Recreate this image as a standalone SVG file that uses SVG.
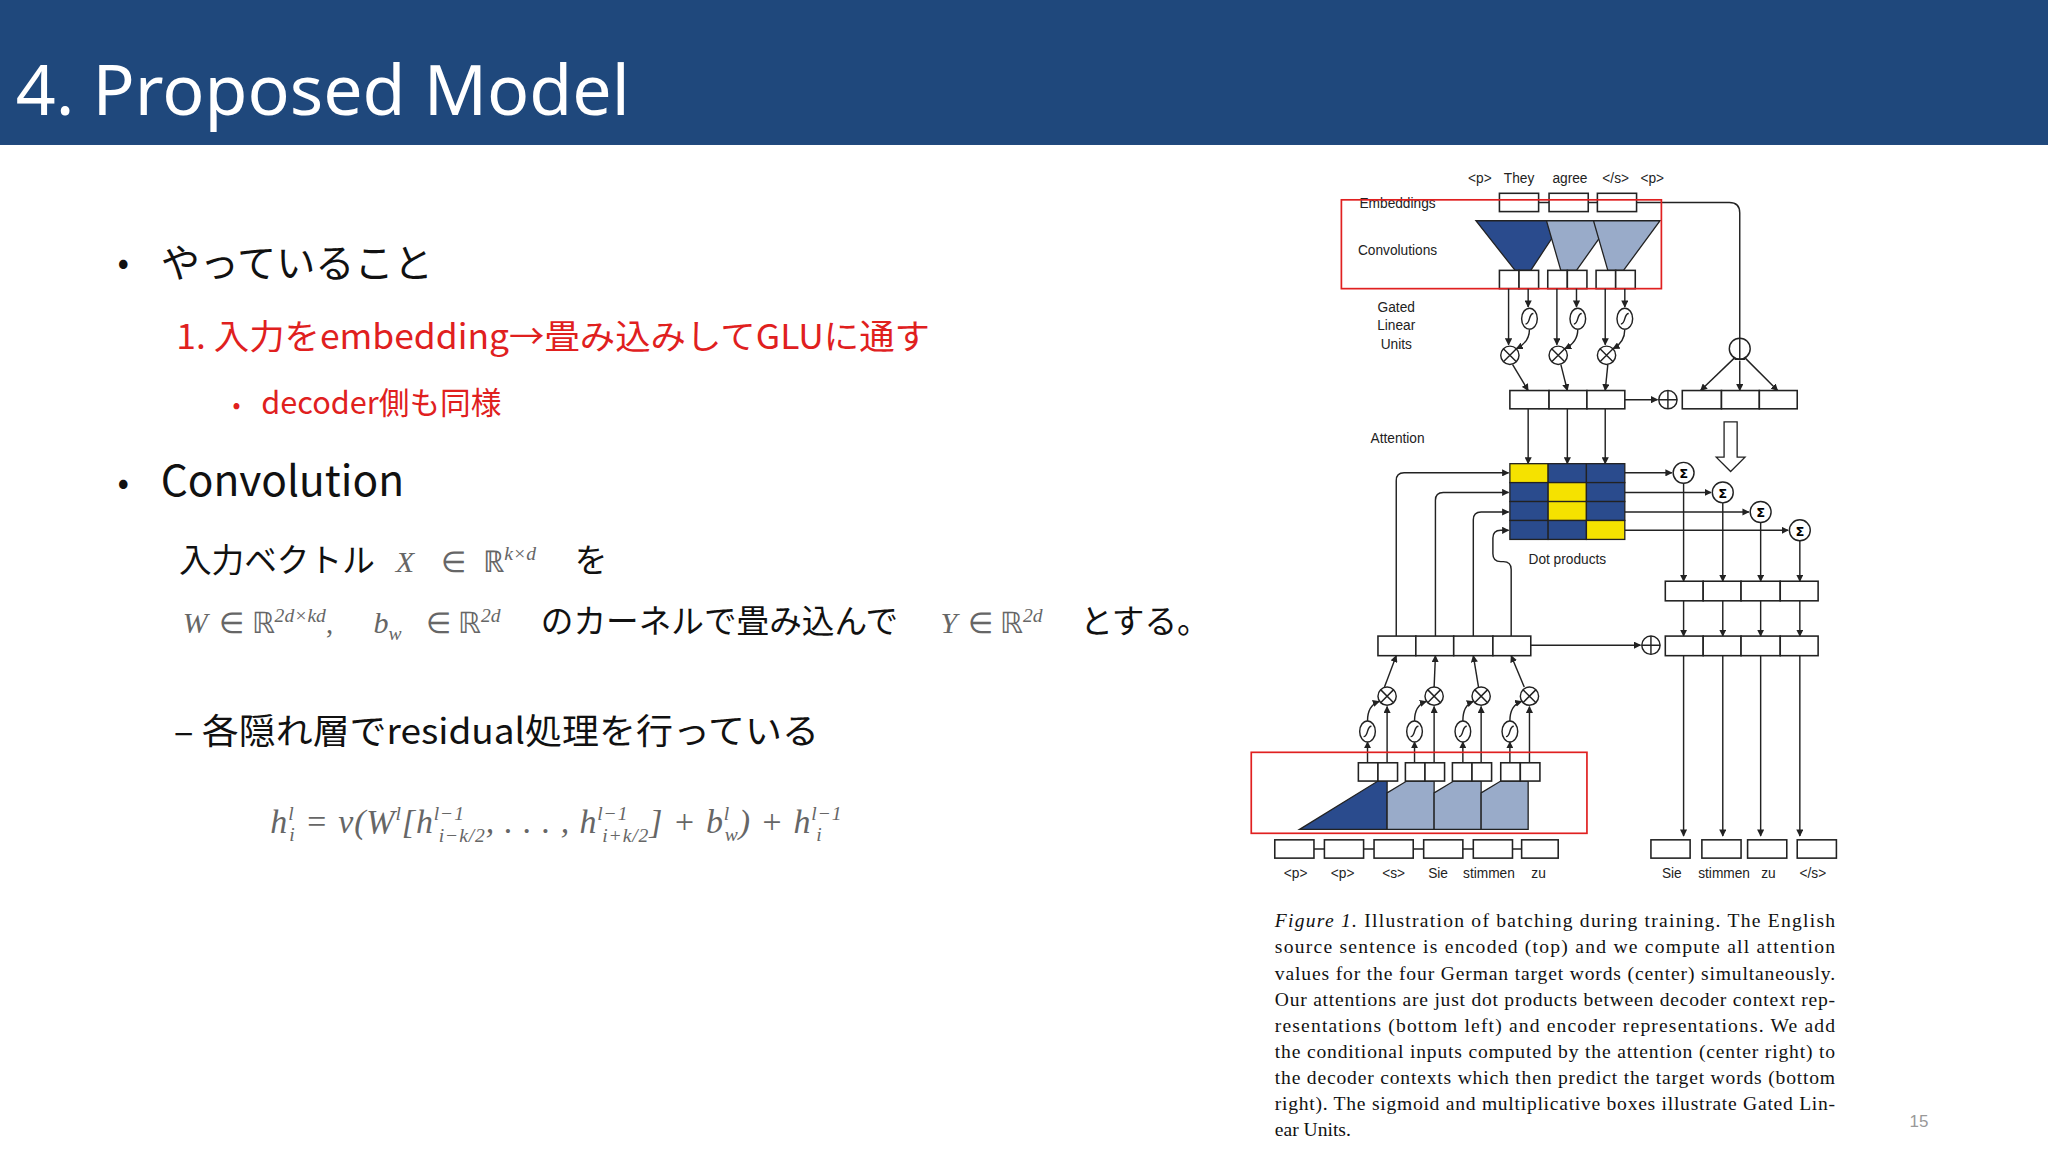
<svg xmlns="http://www.w3.org/2000/svg" width="2048" height="1152" viewBox="0 0 2048 1152">
<defs>
<marker id="ah" viewBox="0 0 10 10" refX="9" refY="5" markerWidth="5" markerHeight="5" orient="auto"><path d="M0,0L10,5L0,10z" fill="#222"/></marker>
<style>
.jp{font-family:"Noto Sans CJK JP","Noto Sans",sans-serif;fill:#111}
.red{fill:#e0201e}
.m{font-family:"Liberation Serif",serif;font-style:italic;fill:#666}
.mr{font-family:"Liberation Serif",serif;fill:#666}
.lb{font-family:"Liberation Sans",Arial,sans-serif;font-size:10.5px;fill:#222}
.bx{fill:#fff;stroke:#222;stroke-width:1.2}
.ln{fill:none;stroke:#222;stroke-width:1.1}
.ar{fill:none;stroke:#222;stroke-width:1.1;marker-end:url(#ah)}
.cap{font-family:"Liberation Serif","Times New Roman",serif;font-size:15px;fill:#111}
.op{fill:#fff;stroke:#222;stroke-width:1.1}
.dk{fill:#2a4b8d;stroke:#222;stroke-width:1}
.lt{fill:#99abc9;stroke:#222;stroke-width:1}
.ye{fill:#f5e200;stroke:#222;stroke-width:1}
</style>
<g id="mul"><circle r="7" class="op"/><path d="M-5,-5L5,5M5,-5L-5,5" class="ln"/></g>
<g id="sig"><ellipse rx="6" ry="8" class="op"/><path d="M-3,4C1,4 -1,-4 3,-4" class="ln"/></g>
<g id="sum"><circle r="8" class="op"/><text y="4" text-anchor="middle" style="font-family:'DejaVu Sans',sans-serif;font-size:10px;font-weight:bold">Σ</text></g>
<g id="plus"><circle r="7" class="op"/><path d="M-7,0H7M0,-7V7" class="ln"/></g>
</defs>
<rect width="2048" height="1152" fill="#fff"/>
<g transform="scale(1.306122)">
<g id="header"><rect x="0" y="0" width="1568" height="111" fill="#1f487c"/>
<text x="12" y="88" style="font-family:'Noto Sans','Open Sans',sans-serif;font-size:53.5px;fill:#fff">4. Proposed Model</text></g>
<g id="body">
<text x="90" y="210" class="jp" style="font-size:26px">•</text>
<text x="123" y="212" class="jp" style="font-size:30px">やっていること</text>
<text x="135" y="267" class="jp red" style="font-size:26px" textLength="577" lengthAdjust="spacingAndGlyphs">1.  入力をembedding→畳み込みしてGLUに通す</text>
<text x="178" y="316" class="jp red" style="font-size:18px">•</text>
<text x="200" y="317" class="jp red" style="font-size:23.5px">decoder側も同様</text>
<text x="90" y="378" class="jp" style="font-size:26px">•</text>
<text x="123" y="380" class="jp" style="font-size:32.5px">Convolution</text>
<text x="137" y="438" class="jp" style="font-size:25px">入力ベクトル</text>
<text x="303" y="438" class="m" style="font-size:23px">X</text>
<text x="338" y="438" class="mr" style="font-size:22px">∈</text>
<text x="370" y="438" class="mr" style="font-size:23px">ℝ<tspan class="m" dy="-9" style="font-size:15px">k×d</tspan></text>
<text x="440" y="438" class="jp" style="font-size:25px">を</text>
<text x="140" y="485" class="m" style="font-size:23px">W</text>
<text x="168" y="485" class="mr" style="font-size:22px">∈ ℝ<tspan class="m" dy="-9" style="font-size:15px">2d×kd</tspan><tspan dy="9">,</tspan></text>
<text x="286" y="485" class="m" style="font-size:23px">b<tspan dy="5" style="font-size:15px">w</tspan></text>
<text x="326" y="485" class="mr" style="font-size:22px">∈ ℝ<tspan class="m" dy="-9" style="font-size:15px">2d</tspan></text>
<text x="414" y="485" class="jp" style="font-size:25px">のカーネルで畳み込んで</text>
<text x="720" y="485" class="m" style="font-size:23px">Y</text>
<text x="741" y="485" class="mr" style="font-size:22px">∈ ℝ<tspan class="m" dy="-9" style="font-size:15px">2d</tspan></text>
<text x="827" y="485" class="jp" style="font-size:25px">とする。</text>
<text x="133" y="570" class="jp" style="font-size:27px" textLength="494" lengthAdjust="spacingAndGlyphs">– 各隠れ層でresidual処理を行っている</text>
<text x="207" y="638" class="m" style="font-size:26px" textLength="438" lengthAdjust="spacing">h<tspan dy="-10" style="font-size:15px">l</tspan><tspan dx="-4" dy="16" style="font-size:15px">i</tspan><tspan class="mr" dy="-6"> = </tspan>v(W<tspan dy="-10" style="font-size:15px">l</tspan><tspan dy="10">[h</tspan><tspan dy="-10" style="font-size:15px">l−1</tspan><tspan dx="-20" dy="17" style="font-size:15px">i−k/2</tspan><tspan dy="-7">, . . . , h</tspan><tspan dy="-10" style="font-size:15px">l−1</tspan><tspan dx="-20" dy="17" style="font-size:15px">i+k/2</tspan><tspan dy="-7">] + b</tspan><tspan dy="-10" style="font-size:15px">l</tspan><tspan dx="-4" dy="16" style="font-size:15px">w</tspan><tspan dy="-6">) + h</tspan><tspan dy="-10" style="font-size:15px">l−1</tspan><tspan dx="-20" dy="16" style="font-size:15px">i</tspan></text>
<text x="1462" y="863" style="font-family:'Liberation Sans',sans-serif;font-size:13px;fill:#999">15</text>
</g>
<g id="caption">
<text x="976" y="710" class="cap" textLength="429" lengthAdjust="spacing"><tspan font-style="italic">Figure 1.</tspan> Illustration of batching during training.  The English</text>
<text x="976" y="730" class="cap" textLength="429" lengthAdjust="spacing">source sentence is encoded (top) and we compute all attention</text>
<text x="976" y="750" class="cap" textLength="429" lengthAdjust="spacing">values for the four German target words (center) simultaneously.</text>
<text x="976" y="770" class="cap" textLength="429" lengthAdjust="spacing">Our attentions are just dot products between decoder context rep-</text>
<text x="976" y="790" class="cap" textLength="429" lengthAdjust="spacing">resentations (bottom left) and encoder representations.  We add</text>
<text x="976" y="810" class="cap" textLength="429" lengthAdjust="spacing">the conditional inputs computed by the attention (center right) to</text>
<text x="976" y="830" class="cap" textLength="429" lengthAdjust="spacing">the decoder contexts which then predict the target words (bottom</text>
<text x="976" y="850" class="cap" textLength="429" lengthAdjust="spacing">right). The sigmoid and multiplicative boxes illustrate Gated Lin-</text>
<text x="976" y="870" class="cap">ear Units.</text>
</g>
<g id="labels" class="lb" text-anchor="middle">
<text x="1133" y="140">&lt;p&gt;</text><text x="1163" y="140">They</text><text x="1202" y="140">agree</text><text x="1237" y="140">&lt;/s&gt;</text><text x="1265" y="140">&lt;p&gt;</text>
<text x="1070" y="159">Embeddings</text><text x="1070" y="195">Convolutions</text>
<text x="1069" y="239">Gated</text><text x="1069" y="253">Linear</text><text x="1069" y="267">Units</text>
<text x="1070" y="339">Attention</text><text x="1200" y="432">Dot products</text>
<text x="992" y="672">&lt;p&gt;</text><text x="1028" y="672">&lt;p&gt;</text><text x="1067" y="672">&lt;s&gt;</text><text x="1101" y="672">Sie</text><text x="1140" y="672">stimmen</text><text x="1178" y="672">zu</text>
<text x="1280" y="672">Sie</text><text x="1320" y="672">stimmen</text><text x="1354" y="672">zu</text><text x="1388" y="672">&lt;/s&gt;</text>
</g>
<g id="encoder">
<path class="ln" d="M1178,155H1186M1216,155H1223M1253,155H1324Q1332,155 1332,163V267"/>
<rect class="bx" x="1148" y="148" width="30" height="14"/><rect class="bx" x="1186" y="148" width="30" height="14"/><rect class="bx" x="1223" y="148" width="30" height="14"/>
<polygon class="dk" points="1130,169 1197,169 1172,207 1160,207"/>
<polygon class="lt" points="1184,169 1234,169 1207,207 1195,207"/>
<polygon class="lt" points="1220,169 1271,169 1243,207 1231,207"/>
<rect class="bx" x="1148" y="207" width="15" height="14"/><rect class="bx" x="1163" y="207" width="15" height="14"/>
<rect class="bx" x="1185" y="207" width="15" height="14"/><rect class="bx" x="1200" y="207" width="15" height="14"/>
<rect class="bx" x="1222" y="207" width="15" height="14"/><rect class="bx" x="1237" y="207" width="15" height="14"/>
<rect x="1027" y="153" width="245" height="68" fill="none" stroke="#e02020" stroke-width="1.3"/>
</g>
<g id="connectors">
<path class="ar" d="M1155,221V264"/><path class="ar" d="M1170,221V235"/><path class="ar" d="M1171,252Q1171,262 1161,267"/>
<path class="ar" d="M1192,221V264"/><path class="ar" d="M1207,221V235"/><path class="ar" d="M1208,252Q1208,262 1198,267"/>
<path class="ar" d="M1229,221V264"/><path class="ar" d="M1244,221V235"/><path class="ar" d="M1244,252Q1244,262 1235,267"/>
<path class="ar" d="M1158,279L1170,299"/><path class="ar" d="M1195,279L1200,299"/><path class="ar" d="M1231,279L1229,299"/>
<path class="ar" d="M1244,306H1269"/>
<path class="ar" d="M1328,274L1302,299"/><path class="ar" d="M1332,276V299"/><path class="ar" d="M1336,274L1361,299"/>
<path class="ar" d="M1170,313V355"/><path class="ar" d="M1200,313V355"/><path class="ar" d="M1229,313V355"/>
<path class="ar" d="M1244,362H1280"/><path class="ar" d="M1244,377H1310"/><path class="ar" d="M1244,392H1339"/><path class="ar" d="M1244,406H1369"/>
<path class="ar" d="M1289,370V445"/><path class="ar" d="M1319,385V445"/><path class="ar" d="M1348,400V445"/><path class="ar" d="M1378,414V445"/>
<path class="ar" d="M1289,460V487"/><path class="ar" d="M1319,460V487"/><path class="ar" d="M1348,460V487"/><path class="ar" d="M1378,460V487"/>
<path class="ar" d="M1289,502V640"/><path class="ar" d="M1319,502V640"/><path class="ar" d="M1348,502V640"/><path class="ar" d="M1378,502V640"/>
<path class="ar" d="M1172,494H1256"/>
<path class="ar" d="M1069,487V368Q1069,362 1075,362H1155"/>
<path class="ar" d="M1099,487V383Q1099,377 1105,377H1155"/>
<path class="ar" d="M1128,487V398Q1128,392 1134,392H1155"/>
<path class="ar" d="M1157,487V436Q1157,430 1151,430H1149Q1143,430 1143,424V412Q1143,406 1149,406H1155"/>
<path class="ar" d="M1047,584V568"/><path class="ar" d="M1062,584V541"/><path class="ar" d="M1047,552Q1047,540 1056,537"/>
<path class="ar" d="M1083,584V568"/><path class="ar" d="M1098,584V541"/><path class="ar" d="M1083,552Q1083,540 1092,537"/>
<path class="ar" d="M1120,584V568"/><path class="ar" d="M1134,584V541"/><path class="ar" d="M1120,552Q1120,540 1128,537"/>
<path class="ar" d="M1156,584V568"/><path class="ar" d="M1171,584V541"/><path class="ar" d="M1156,552Q1156,540 1165,537"/>
<path class="ar" d="M1060,526L1069,502"/><path class="ar" d="M1098,526L1099,502"/><path class="ar" d="M1132,526L1128,502"/><path class="ar" d="M1167,526L1157,502"/>
<path class="ln" d="M1006,650H1014M1044,650H1052M1082,650H1090M1120,650H1128M1158,650H1165"/>
<path d="M1320,323H1330V350H1336L1325,361L1314,350H1320Z" fill="#fff" stroke="#222" stroke-width="1"/>
</g>
<g id="ops">
<use href="#sig" x="1171" y="244"/><use href="#sig" x="1208" y="244"/><use href="#sig" x="1244" y="244"/>
<use href="#mul" x="1156" y="272"/><use href="#mul" x="1193" y="272"/><use href="#mul" x="1230" y="272"/>
<circle cx="1332" cy="267" r="8" class="op"/><path class="ln" d="M1332,259V275M1328,275L1336,275"/>
<use href="#plus" x="1277" y="306"/><use href="#plus" x="1264" y="494"/>
<use href="#sum" x="1289" y="362"/><use href="#sum" x="1319" y="377"/><use href="#sum" x="1348" y="392"/><use href="#sum" x="1378" y="406"/>
<use href="#mul" x="1062" y="533"/><use href="#mul" x="1098" y="533"/><use href="#mul" x="1134" y="533"/><use href="#mul" x="1171" y="533"/>
<use href="#sig" x="1047" y="560"/><use href="#sig" x="1083" y="560"/><use href="#sig" x="1120" y="560"/><use href="#sig" x="1156" y="560"/>
</g>
<g id="rows">
<rect class="bx" x="1156" y="299" width="30" height="14"/><rect class="bx" x="1186" y="299" width="29" height="14"/><rect class="bx" x="1215" y="299" width="29" height="14"/>
<rect class="bx" x="1288" y="299" width="30" height="14"/><rect class="bx" x="1318" y="299" width="29" height="14"/><rect class="bx" x="1347" y="299" width="29" height="14"/>
<rect class="bx" x="1275" y="445" width="29" height="15"/><rect class="bx" x="1304" y="445" width="29" height="15"/><rect class="bx" x="1333" y="445" width="30" height="15"/><rect class="bx" x="1363" y="445" width="29" height="15"/>
<rect class="bx" x="1275" y="487" width="29" height="15"/><rect class="bx" x="1304" y="487" width="29" height="15"/><rect class="bx" x="1333" y="487" width="30" height="15"/><rect class="bx" x="1363" y="487" width="29" height="15"/>
<rect class="bx" x="1055" y="487" width="29" height="15"/><rect class="bx" x="1084" y="487" width="29" height="15"/><rect class="bx" x="1113" y="487" width="30" height="15"/><rect class="bx" x="1143" y="487" width="29" height="15"/>
<rect class="bx" x="1264" y="643" width="30" height="14"/><rect class="bx" x="1303" y="643" width="30" height="14"/><rect class="bx" x="1338" y="643" width="30" height="14"/><rect class="bx" x="1376" y="643" width="30" height="14"/>
</g>
<g id="matrix">
<rect class="ye" x="1156" y="355" width="29.3" height="14.5"/><rect class="dk" x="1185.3" y="355" width="29.3" height="14.5"/><rect class="dk" x="1214.6" y="355" width="29.4" height="14.5"/>
<rect class="dk" x="1156" y="369.5" width="29.3" height="14.5"/><rect class="ye" x="1185.3" y="369.5" width="29.3" height="14.5"/><rect class="dk" x="1214.6" y="369.5" width="29.4" height="14.5"/>
<rect class="dk" x="1156" y="384" width="29.3" height="14.5"/><rect class="ye" x="1185.3" y="384" width="29.3" height="14.5"/><rect class="dk" x="1214.6" y="384" width="29.4" height="14.5"/>
<rect class="dk" x="1156" y="398.5" width="29.3" height="14.5"/><rect class="dk" x="1185.3" y="398.5" width="29.3" height="14.5"/><rect class="ye" x="1214.6" y="398.5" width="29.4" height="14.5"/>
</g>
<g id="decoder">
<polygon class="dk" points="995,635 1055,598 1062,598 1062,635"/>
<polygon class="lt" points="1062,635 1062,607 1077,598 1098,598 1098,635"/>
<polygon class="lt" points="1098,635 1098,607 1113,598 1134,598 1134,635"/>
<polygon class="lt" points="1134,635 1134,607 1149,598 1170,598 1170,635"/>
<rect class="bx" x="1040" y="584" width="15" height="14"/><rect class="bx" x="1055" y="584" width="15" height="14"/>
<rect class="bx" x="1076" y="584" width="15" height="14"/><rect class="bx" x="1091" y="584" width="15" height="14"/>
<rect class="bx" x="1112" y="584" width="15" height="14"/><rect class="bx" x="1127" y="584" width="15" height="14"/>
<rect class="bx" x="1149" y="584" width="15" height="14"/><rect class="bx" x="1164" y="584" width="15" height="14"/>
<rect x="958" y="576" width="257" height="62" fill="none" stroke="#e02020" stroke-width="1.3"/>
<rect class="bx" x="976" y="643" width="30" height="14"/><rect class="bx" x="1014" y="643" width="30" height="14"/><rect class="bx" x="1052" y="643" width="30" height="14"/><rect class="bx" x="1090" y="643" width="30" height="14"/><rect class="bx" x="1128" y="643" width="30" height="14"/><rect class="bx" x="1165" y="643" width="28" height="14"/>
</g>
</g>
</svg>
